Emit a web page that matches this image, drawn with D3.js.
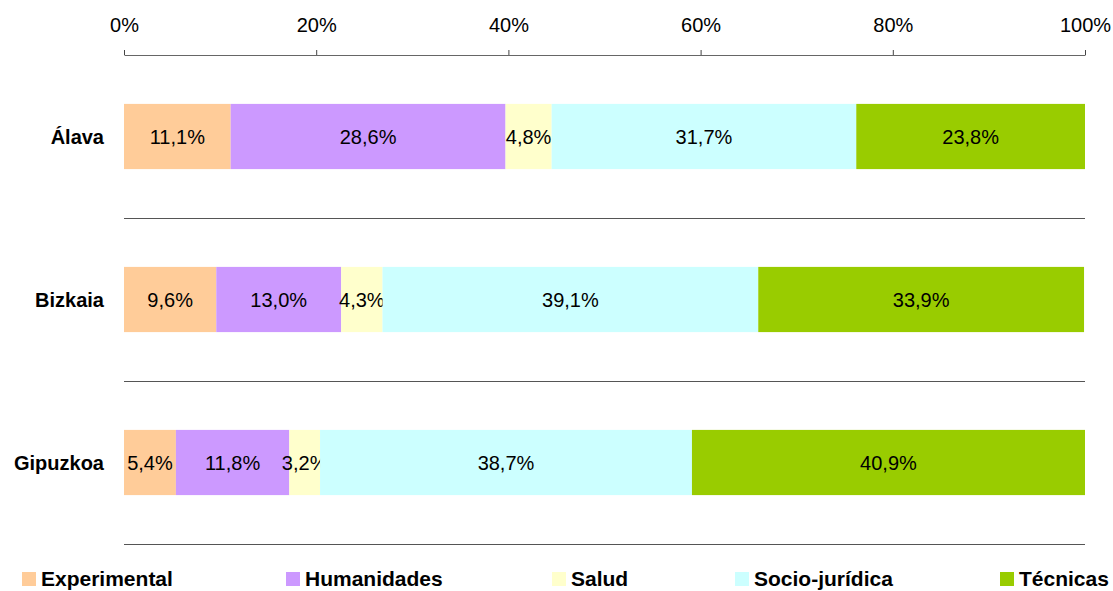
<!DOCTYPE html>
<html>
<head>
  <meta charset="utf-8">
  <title>Stacked 100% bar chart</title>
  <script src="https://cdn.jsdelivr.net/npm/d3@7/dist/d3.min.js"></script>
  <style>
    body { margin: 0; background: #fff; }
    svg text { font-family: Arial, 'Liberation Sans', sans-serif; fill: #000; }
  </style>
</head>
<body>
  <svg id="chart" width="1113" height="591"></svg>

  <script>
    // data
    var provinces = ['Álava', 'Bizkaia', 'Gipuzkoa'];
    var fields = ['Experimental', 'Humanidades', 'Salud', 'Socio-jurídica', 'Técnicas'];
    var colors = ['#ffcc99', '#cc99ff', '#ffffcc', '#ccffff', '#99cc00'];
    var alava = [11.1, 28.6, 4.8, 31.7, 23.8];
    var bizkaia = [9.6, 13.0, 4.3, 39.1, 33.9];
    var gipuzkoa = [5.4, 11.8, 3.2, 38.7, 40.9];
    var xTicks = [0, 20, 40, 60, 80, 100];

    var values = [alava, bizkaia, gipuzkoa];
    var table = provinces.map((p, i) => {
      var row = { province: p };
      fields.forEach((f, j) => row[f] = values[i][j]);
      return row;
    });

    var svg = d3.select('#chart'),
      margin = { top: 55, right: 28, bottom: 47, left: 124 },
      width = +svg.attr('width') - margin.left - margin.right,
      height = +svg.attr('height') - margin.top - margin.bottom,
      g = svg.append('g').attr('transform', 'translate(' + margin.left + ',' + margin.top + ')');

    var x = d3.scaleLinear().domain([0, 100]).range([0, width]);
    var y = d3.scaleBand().domain(provinces).range([0, height])
      .paddingInner(0.6).paddingOuter(0.3);
    var color = d3.scaleOrdinal().domain(fields).range(colors);

    var series = d3.stack().keys(fields)(table);

    // separators below each category
    g.append('g')
      .selectAll('line')
      .data(provinces)
      .join('line')
      .attr('x1', 0)
      .attr('x2', width)
      .attr('y1', (d, i) => Math.round(y.step() * (i + 1)) + 0.5)
      .attr('y2', (d, i) => Math.round(y.step() * (i + 1)) + 0.5)
      .attr('stroke', '#555')
      .attr('stroke-width', 1);

    // top axis
    var axis = g.append('g')
      .call(d3.axisTop(x).tickValues(xTicks).tickFormat(d => d + '%').tickSize(5).tickSizeOuter(0));
    axis.select('.domain').attr('stroke', '#666');
    axis.selectAll('.tick line').attr('stroke', '#444');
    axis.selectAll('.tick text')
      .attr('font-size', '20px')
      .attr('y', -30)
      .attr('dy', '0.35em');

    // bars
    var layer = g.selectAll('.layer')
      .data(series)
      .join('g')
      .attr('class', 'layer')
      .attr('fill', d => color(d.key));

    layer.selectAll('rect')
      .data(d => d)
      .join('rect')
      .attr('x', d => x(d[0]))
      .attr('y', d => y(d.data.province))
      .attr('width', d => x(d[1]) - x(d[0]))
      .attr('height', y.bandwidth());

    layer.selectAll('text')
      .data(d => d)
      .join('text')
      .attr('x', d => (x(d[0]) + x(d[1])) / 2)
      .attr('y', d => y(d.data.province) + y.bandwidth() / 2)
      .attr('dy', '0.35em')
      .attr('text-anchor', 'middle')
      .attr('font-size', '20px')
      .text(d => (d[1] - d[0]).toFixed(1).replace('.', ',') + '%');

    // category labels
    g.append('g')
      .selectAll('text')
      .data(provinces)
      .join('text')
      .attr('x', -20)
      .attr('y', d => y(d) + y.bandwidth() / 2)
      .attr('dy', '0.35em')
      .attr('text-anchor', 'end')
      .attr('font-size', '20px')
      .attr('font-weight', 'bold')
      .text(d => d);

    // legend
    var legendX = [22, 286, 552, 735, 1000];
    var legend = svg.append('g')
      .selectAll('g')
      .data(fields)
      .join('g')
      .attr('transform', (d, i) => 'translate(' + legendX[i] + ',572)');

    legend.append('rect')
      .attr('width', 14)
      .attr('height', 14)
      .attr('fill', d => color(d));

    legend.append('text')
      .attr('x', 19)
      .attr('y', 14)
      .attr('font-size', '21px')
      .attr('font-weight', 'bold')
      .text(d => d);
  </script>
</body>
</html>
